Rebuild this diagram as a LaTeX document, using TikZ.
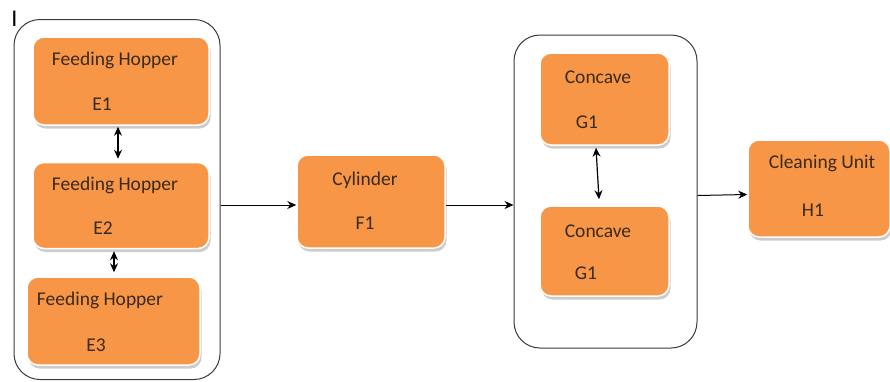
\documentclass[tikz,border=0pt]{standalone}
\usepackage{fontspec}
\setmainfont{Carlito}
\usetikzlibrary{arrows.meta,shadows}
\definecolor{boxorange}{HTML}{F79646}
\definecolor{txt}{HTML}{3A2A1C}
\definecolor{frame}{HTML}{3A3A3A}
\tikzset{
  unit/.style={rectangle, rounded corners=11pt, fill=boxorange, draw=white, line width=1.5pt,
    drop shadow={opacity=0.4, shadow xshift=1.5pt, shadow yshift=-3.5pt}, inner sep=0pt},
  group/.style={rectangle, rounded corners=26pt, draw=frame, line width=1pt, inner sep=0pt},
  lbl/.style={text=txt, font=\fontsize{19.5}{22}\selectfont, inner sep=0pt},
  flow/.style={-{Stealth[length=9pt,width=8pt]}, line width=1pt},
  both/.style={{Stealth[length=9pt,width=8pt]}-{Stealth[length=9pt,width=8pt]}, line width=1.2pt}
}
\begin{document}
\begin{tikzpicture}[x=1pt,y=-1pt]
\useasboundingbox[fill=white] (0,0) rectangle (890,381);

% cursor mark
\node[text=black, font=\fontsize{24}{26}\selectfont, inner sep=0pt] (mark) at (14.5,19) {I};

% group frames
\node[group, minimum width=206pt, minimum height=360pt] (grpL) at (117,199.5) {};
\node[group, minimum width=183pt, minimum height=313pt] (grpR) at (605.5,191.5) {};

% feeding hoppers
\node[unit, minimum width=176pt, minimum height=88pt] (e1) at (121,81) {};
\node[lbl] (e1a) at (115,60) {Feeding Hopper};
\node[lbl] (e1b) at (102,104) {E1};

\node[unit, minimum width=176pt, minimum height=86pt] (e2) at (121,205.5) {};
\node[lbl] (e2a) at (115,185) {Feeding Hopper};
\node[lbl] (e2b) at (103,228) {E2};

\node[unit, minimum width=173pt, minimum height=88pt] (e3) at (113.5,321) {};
\node[lbl] (e3a) at (100,300) {Feeding Hopper};
\node[lbl] (e3b) at (96,345) {E3};

% cylinder
\node[unit, minimum width=148pt, minimum height=93pt] (cyl) at (371,201.5) {};
\node[lbl] (cyla) at (365,180) {Cylinder};
\node[lbl] (cylb) at (365,223) {F1};

% concaves
\node[unit, minimum width=129pt, minimum height=92pt] (g1) at (604.5,99) {};
\node[lbl] (g1a) at (598,77) {Concave};
\node[lbl] (g1b) at (587,122) {G1};

\node[unit, minimum width=129pt, minimum height=90pt] (g2) at (604.5,251) {};
\node[lbl] (g2a) at (598,231) {Concave};
\node[lbl] (g2b) at (586,273) {G1};

% cleaning unit
\node[unit, minimum width=142pt, minimum height=97pt] (cln) at (819,188.5) {};
\node[lbl] (clna) at (822,163) {Cleaning Unit};
\node[lbl] (clnb) at (813,210) {H1};

% links between units
\draw[both] ([xshift=-3pt,yshift=-1pt]e1.south) -- ([xshift=-3pt,yshift=3pt]e2.north);
\draw[both] ([xshift=-7pt,yshift=-2pt]e2.south) -- ([xshift=0.5pt,yshift=4pt]e3.north);
\draw[both] ([xshift=-8.5pt,yshift=-2pt]g1.south) -- ([xshift=-5.5pt,yshift=6pt]g2.north);

\draw[flow] (grpL.east |- 0,205) -- (cyl.west |- 0,205);
\draw[flow] (cyl.east |- 0,205) -- (grpR.west |- 0,205);
\draw[flow] (grpR.east |- 0,195.5) -- (cln.west |- 0,194.5);
\end{tikzpicture}
\end{document}
